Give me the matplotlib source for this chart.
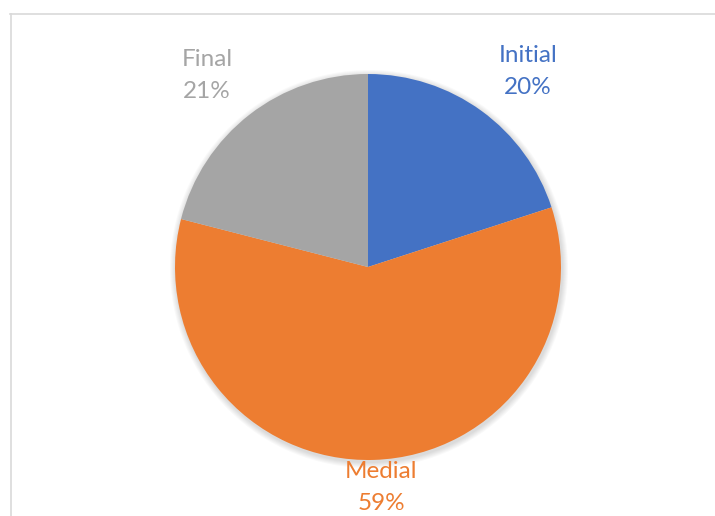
import matplotlib.pyplot as plt
from matplotlib.patches import Circle
from matplotlib.lines import Line2D

# Share of position in the word
positions = ['Initial', 'Medial', 'Final']
shares = [20, 59, 21]
colors = ['#4472C4', '#ED7D31', '#A5A5A5']

W, H = 715, 516
cx, cy, r = 368, H - 267, 193

fig = plt.figure(figsize=(W / 100, H / 100), dpi=100)
ax = fig.add_axes([0, 0, 1, 1])

# soft shadow under the pie
for i in range(6):
    ax.add_patch(Circle((cx + 1, cy - 2), r + 6 - i, color='black',
                        alpha=0.025, lw=0, zorder=0))

wedges, _ = ax.pie(shares, colors=colors, startangle=90, counterclock=False,
                   center=(cx, cy), radius=r,
                   wedgeprops=dict(linewidth=0, zorder=1))

ax.set_xlim(0, W)
ax.set_ylim(0, H)
ax.set_aspect('equal')
ax.axis('off')

# chart area border (top and left edges visible)
fig.add_artist(Line2D([10 / W, 1], [1 - 13.5 / H, 1 - 13.5 / H],
                      color='#D9D9D9', lw=1.2))
fig.add_artist(Line2D([10.5 / W, 10.5 / W], [0, 1 - 13.5 / H],
                      color='#D9D9D9', lw=1.2))

label_pos = {'Initial': (528, 55), 'Medial': (381, 472), 'Final': (207, 59)}
for name, share, col in zip(positions, shares, colors):
    x, y = label_pos[name]
    ax.text(x, H - y, name, ha='center', va='center', color=col,
            fontsize=17.5, family='Lato')
    ax.text(x, H - y - 32, f'{share}%', ha='center', va='center', color=col,
            fontsize=17.5, family='Lato')

fig.savefig('out.png', dpi=100)
